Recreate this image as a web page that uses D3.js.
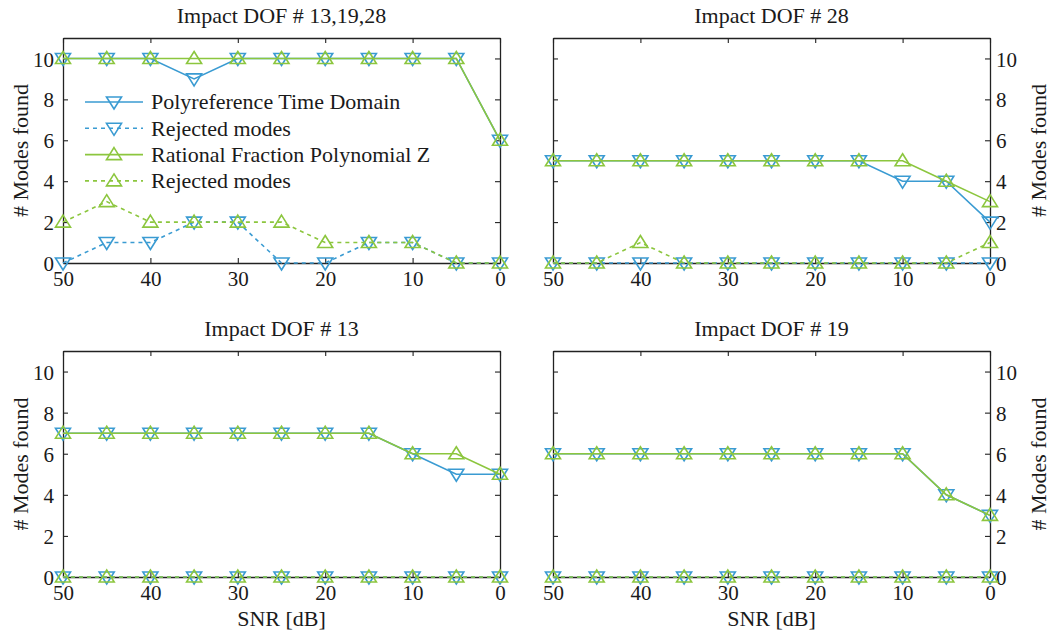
<!DOCTYPE html>
<html>
<head>
<meta charset="utf-8">
<script src="https://cdn.jsdelivr.net/npm/d3@7"></script>
<style>
  body { margin: 0; background: #fff; }
  text { font-family: "Liberation Serif", "Times New Roman", serif; fill: #1a1a1a; }
</style>
</head>
<body>
<div id="chart"></div>
<script>
// SNR levels (dB), plotted from 50 down to 0
var snr = [50, 45, 40, 35, 30, 25, 20, 15, 10, 5, 0];
var yTicks = [0, 2, 4, 6, 8, 10];
var xTicks = [50, 40, 30, 20, 10, 0];

var titles = ["Impact DOF # 13,19,28", "Impact DOF # 28", "Impact DOF # 13", "Impact DOF # 19"];

// Polyreference Time Domain: modes found / rejected
var ptdFound = [
  [10, 10, 10, 9, 10, 10, 10, 10, 10, 10, 6],
  [5, 5, 5, 5, 5, 5, 5, 5, 4, 4, 2],
  [7, 7, 7, 7, 7, 7, 7, 7, 6, 5, 5],
  [6, 6, 6, 6, 6, 6, 6, 6, 6, 4, 3]
];
var ptdRejected = [
  [0, 1, 1, 2, 2, 0, 0, 1, 1, 0, 0],
  [0, 0, 0, 0, 0, 0, 0, 0, 0, 0, 0],
  [0, 0, 0, 0, 0, 0, 0, 0, 0, 0, 0],
  [0, 0, 0, 0, 0, 0, 0, 0, 0, 0, 0]
];
// Rational Fraction Polynomial Z: modes found / rejected
var rfpFound = [
  [10, 10, 10, 10, 10, 10, 10, 10, 10, 10, 6],
  [5, 5, 5, 5, 5, 5, 5, 5, 5, 4, 3],
  [7, 7, 7, 7, 7, 7, 7, 7, 6, 6, 5],
  [6, 6, 6, 6, 6, 6, 6, 6, 6, 4, 3]
];
var rfpRejected = [
  [2, 3, 2, 2, 2, 2, 1, 1, 1, 0, 0],
  [0, 0, 1, 0, 0, 0, 0, 0, 0, 0, 1],
  [0, 0, 0, 0, 0, 0, 0, 0, 0, 0, 0],
  [0, 0, 0, 0, 0, 0, 0, 0, 0, 0, 0]
];

var legendLabels = ["Polyreference Time Domain", "Rejected modes", "Rational Fraction Polynomial Z", "Rejected modes"];

var blue = "#3a9bd2", green = "#8cc63e";

var width = 1051, height = 634;
var svg = d3.select("#chart").append("svg").attr("width", width).attr("height", height);

// panel boxes: left, top, right, bottom(y=0)
var panels = [
  {x0: 63, x1: 500, y0: 38, y1: 263, side: "left", xlabel: false},
  {x0: 553, x1: 990, y0: 38, y1: 263, side: "right", xlabel: false},
  {x0: 63, x1: 500, y0: 351, y1: 577, side: "left", xlabel: true},
  {x0: 553, x1: 990, y0: 351, y1: 577, side: "right", xlabel: true}
];

var tri = function (up) {
  // open triangle marker
  return up ? "M0,-7L7.5,5L-7.5,5Z" : "M0,7L7.5,-5L-7.5,-5Z";
};

panels.forEach(function (p, i) {
  var x = d3.scaleLinear().domain([50, 0]).range([p.x0, p.x1]);
  var y = d3.scaleLinear().domain([0, 11]).range([p.y1, p.y0]);
  var g = svg.append("g");

  // axes with inward ticks on all four sides
  var axL = d3.axisLeft(y).tickValues(yTicks).tickSizeInner(-5).tickSizeOuter(0);
  var axR = d3.axisRight(y).tickValues(yTicks).tickSizeInner(-5).tickSizeOuter(0);
  var axB = d3.axisBottom(x).tickValues(xTicks).tickSizeInner(-5).tickSizeOuter(0);
  var axT = d3.axisTop(x).tickValues(xTicks).tickSizeInner(-5).tickSizeOuter(0);

  var gl = g.append("g").attr("transform", "translate(" + p.x0 + ",0)").call(axL);
  var gr = g.append("g").attr("transform", "translate(" + p.x1 + ",0)").call(axR);
  var gb = g.append("g").attr("transform", "translate(0," + p.y1 + ")").call(axB);
  var gt = g.append("g").attr("transform", "translate(0," + p.y0 + ")").call(axT);

  gt.selectAll("text").remove();
  if (p.side === "left") gr.selectAll("text").remove(); else gl.selectAll("text").remove();

  [gl, gr, gb, gt].forEach(function (a) {
    a.selectAll("path.domain").attr("stroke", "#222").attr("stroke-width", 1.3);
    a.selectAll(".tick line").attr("stroke", "#222").attr("stroke-width", 1.1);
    a.selectAll("text").style("font-family", "Liberation Serif, serif").style("font-size", "21px").attr("fill", "#1a1a1a");
  });
  gl.selectAll("text").attr("x", -9).attr("dy", "0.36em");
  gr.selectAll("text").attr("x", 6).attr("dy", "0.36em");
  gb.selectAll("text").attr("y", 7).attr("dy", "0.75em");

  // title
  g.append("text").attr("x", (p.x0 + p.x1) / 2).attr("y", p.y0 - 15)
    .attr("text-anchor", "middle").style("font-size", "22px").text(titles[i]);

  // y label
  var lx = p.side === "left" ? 28 : 1046;
  var ly = (p.y0 + p.y1) / 2;
  g.append("text").attr("transform", "translate(" + lx + "," + ly + ") rotate(-90)")
    .attr("text-anchor", "middle").style("font-size", "22px").text("# Modes found");

  if (p.xlabel) {
    g.append("text").attr("x", (p.x0 + p.x1) / 2).attr("y", 626)
      .attr("text-anchor", "middle").style("font-size", "22px").text("SNR [dB]");
  }

  var series = [
    {vals: ptdFound[i], color: blue, dash: null, up: false},
    {vals: ptdRejected[i], color: blue, dash: "4,4", up: false},
    {vals: rfpFound[i], color: green, dash: null, up: true},
    {vals: rfpRejected[i], color: green, dash: "4,4", up: true}
  ];

  var line = d3.line()
    .x(function (d, k) { return x(snr[k]); })
    .y(function (d) { return y(d); });

  series.forEach(function (s) {
    g.append("path").attr("d", line(s.vals))
      .attr("fill", "none").attr("stroke", s.color).attr("stroke-width", 1.6)
      .attr("stroke-dasharray", s.dash);
    g.selectAll(null).data(s.vals).enter().append("path")
      .attr("transform", function (d, k) { return "translate(" + x(snr[k]) + "," + y(d) + ")"; })
      .attr("d", tri(s.up))
      .attr("fill", "none").attr("stroke", s.color).attr("stroke-width", 1.6);
  });

  // legend in first panel
  if (i === 0) {
    var lg = g.append("g");
    series.forEach(function (s, k) {
      var yy = 102 + k * 26.3;
      lg.append("line").attr("x1", 85).attr("x2", 143).attr("y1", yy).attr("y2", yy)
        .attr("stroke", s.color).attr("stroke-width", 1.6).attr("stroke-dasharray", s.dash);
      lg.append("path").attr("transform", "translate(114," + yy + ")").attr("d", tri(s.up))
        .attr("fill", "none").attr("stroke", s.color).attr("stroke-width", 1.6);
      lg.append("text").attr("x", 151).attr("y", yy).attr("dy", "0.33em")
        .style("font-size", "22px").text(legendLabels[k]);
    });
  }
});
</script>
</body>
</html>
